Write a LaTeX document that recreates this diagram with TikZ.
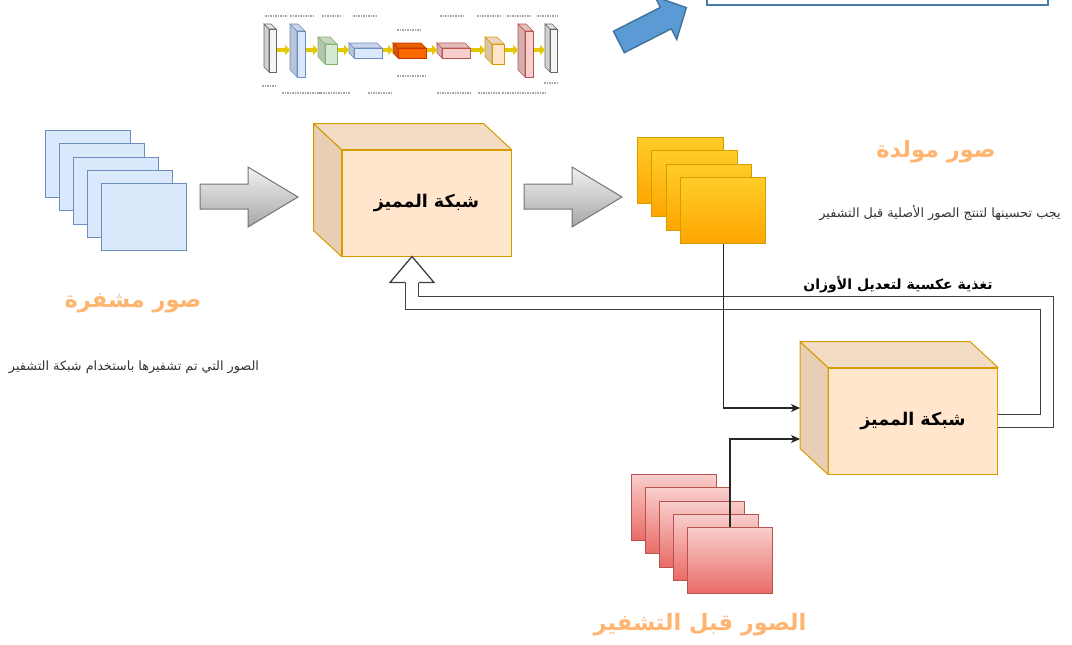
\documentclass[tikz,border=0pt]{standalone}
\usepackage{fontspec}
\usetikzlibrary{arrows.meta,calc}
\newfontfamily\arabicfont[Script=Arabic]{DejaVu Sans}
\TeXXeTstate=1

\definecolor{encfill}{HTML}{DAE8FC}
\definecolor{encline}{HTML}{6C8EBF}
\definecolor{gentop}{HTML}{FFCD28}
\definecolor{genbot}{HTML}{FFA500}
\definecolor{genline}{HTML}{D79B00}
\definecolor{pretop}{HTML}{F8CECC}
\definecolor{prebot}{HTML}{EA6B66}
\definecolor{preline}{HTML}{B85450}
\definecolor{discfront}{HTML}{FFE6CC}
\definecolor{discroof}{HTML}{F2DCC4}
\definecolor{discleft}{HTML}{E8CEB4}
\definecolor{titleorange}{HTML}{FFB570}
\definecolor{noteblue}{HTML}{4A7AAA}
\definecolor{arrowblue}{HTML}{5B9BD5}
\definecolor{arrowedge}{HTML}{41719C}
\definecolor{thumbyellow}{HTML}{E3C800}
\definecolor{thumbgray}{HTML}{F5F5F5}
\definecolor{thumbgrayline}{HTML}{666666}
\definecolor{thumbgreen}{HTML}{D5E8D4}
\definecolor{thumbgreenline}{HTML}{82B366}
\definecolor{thumborange}{HTML}{FA6800}
\definecolor{thumborangeline}{HTML}{C73500}

% a discriminator drawn as a box: front face is the node, then the side and the top
\newcommand{\discnet}[2]{%
  \node[discface] (#1) at (#2) {\beginR شبكة المميز\endR};
  \draw[discline, fill=discleft] (#1.north west) -- ++(-28,-26) -- ($(#1.south west)+(-28,-26)$) -- (#1.south west) -- cycle;
  \draw[discline, fill=discroof] (#1.north west) -- ++(-28,-26) -- ($(#1.north east)+(-28,-26)$) -- (#1.north east) -- cycle;
}

\tikzset{
  encsheet/.style={draw=encline, fill=encfill, line width=1pt, minimum width=85pt, minimum height=67pt, anchor=north west},
  gensheet/.style={draw=genline, top color=gentop, bottom color=genbot, line width=1pt, minimum width=85.5pt, minimum height=66pt, anchor=north west},
  presheet/.style={draw=preline, top color=pretop, bottom color=prebot, line width=1pt, minimum width=85pt, minimum height=66pt, anchor=north west},
  discface/.style={draw=genline, fill=discfront, line width=1pt, minimum width=169pt, minimum height=106pt, font=\arabicfont\bfseries\fontsize{17.5}{20}\selectfont},
  discline/.style={draw=genline, line width=1pt, line join=round},
  grayarrow/.style={draw=black!55, line width=1pt, top color=black!5, bottom color=black!35},
  bluearrow/.style={draw=arrowedge, fill=arrowblue, line width=1.4pt},
  topbox/.style={draw=noteblue, fill=white, line width=1.8pt},
  feedback/.style={draw=black!75, line width=1.3pt, double=white, double distance=11.7pt},
  fbhead/.style={draw=black!75, line width=1.3pt, fill=white},
  wire/.style={draw=black!85, line width=1.1pt, -{Stealth[length=9pt,width=8pt,inset=2.5pt]}},
  headtext/.style={font=\arabicfont\bfseries\fontsize{22.5}{26}\selectfont, text=titleorange},
  smalltext/.style={font=\arabicfont\fontsize{12.8}{15}\selectfont, text=black!80},
  fbtext/.style={font=\arabicfont\bfseries\fontsize{14}{17}\selectfont},
  tinytxt/.style={draw=black!35, line width=1.6pt, dash pattern=on 1.5pt off 1pt},
  yellowarrow/.style={draw=thumbyellow, line width=3.5pt, -{Triangle[length=5pt,width=10pt]}},
}

\begin{document}
\begin{tikzpicture}[x=1pt, y=-1pt]
  \clip (0,0) rectangle (1072,645);

  % small network sketch at the top
  \foreach \x/\y/\w/\h/\d/\f/\b in {269/29/7/43/5/thumbgray/thumbgrayline, 297/31/8/46/7/encfill/encline,
      325/44/12/20/7/thumbgreen/thumbgreenline, 354/48/28/10/5/encfill/encline,
      398/48/28/10/5/thumborange/thumborangeline, 442/48/28/10/5/pretop/preline,
      492/44/12/20/7/discfront/genline, 525/31/8/46/7/pretop/preline, 550/29/7/43/5/thumbgray/thumbgrayline} {
    \draw[draw=\b, fill=\f!85!black, line width=0.6pt] (\x,\y) -- ++(-\d,-\d) -- ++(0,\h) -- ++(\d,\d) -- cycle;
    \draw[draw=\b, fill=\f!92!black, line width=0.6pt] (\x,\y) -- ++(-\d,-\d) -- ++(\w,0) -- ++(\d,\d) -- cycle;
    \draw[draw=\b, fill=\f, line width=0.6pt] (\x,\y) rectangle ++(\w,\h);
  }
  \foreach \a/\b in {277/290, 306/318, 338/349, 383/393, 427/437, 471/485, 505/518, 534/545}
    \draw[yellowarrow] (\a,50) -- (\b,50);
  \foreach \a/\b/\y in {265/287/16, 290/315/16, 322/340/16, 353/378/16, 440/463/16, 477/502/16,
      507/530/16, 537/558/16, 397/420/30, 397/427/76, 262/275/86, 544/557/83,
      282/322/93, 318/350/93, 368/392/93, 437/472/93, 478/500/93, 502/547/93}
    \draw[tinytxt] (\a,\y) -- (\b,\y);

  % blue arrow and the box above it
  \begin{scope}[shift={(618.9,42)}, rotate=27]
    \draw[bluearrow] (0,-12) -- (52.7,-12) -- (52.7,-24) -- (75.7,0) -- (52.7,24) -- (52.7,12) -- (0,12) -- cycle;
  \end{scope}
  \node[topbox, minimum width=341pt, minimum height=30pt, anchor=south west] (notebox) at (706,6) {};

  % image stacks
  \foreach \i in {0,...,4}
    \node[encsheet] (enc\i) at ({45+14*\i},{130+13.3*\i}) {};
  \foreach \i in {0,...,3}
    \node[gensheet] (gen\i) at ({637+14.3*\i},{137+13.3*\i}) {};
  \foreach \i in {0,...,4}
    \node[presheet] (pre\i) at ({631+14*\i},{474+13.25*\i}) {};

  % discriminators
  \discnet{disc1}{426.5,203}
  \discnet{disc2}{913,421}

  % gray arrows
  \foreach \dx in {0,324}
    \draw[grayarrow, shift={(\dx,0)}] (200,184) -- (248,184) -- (248,167) -- (298,197) -- (248,227) -- (248,209) -- (200,209) -- cycle;

  % feedback back into the first discriminator
  \coordinate (fbtip) at ($(disc1.south)+(-14.5,0)$);
  \draw[feedback] (disc2.east) -- ++(49,0) |- ($(fbtip)+(0,46.5)$) -- ($(fbtip)+(0,26)$);
  \draw[fbhead] ($(fbtip)+(-6.5,26)$) -- ++(-15.5,0) -- (fbtip) -- ($(fbtip)+(22,26)$) -- ++(-15.5,0);

  \draw[wire] (gen3.south) |- ($(disc2.west)+(-28,-13)$);
  \draw[wire] (pre4.north) |- ($(disc2.west)+(-28,18)$);

  % labels
  \node[headtext] (enclabel) at (133,303) {\beginR صور مشفرة\endR};
  \node[smalltext] (encnote) at (134,367) {\beginR الصور التي تم تشفيرها باستخدام شبكة التشفير\endR};
  \node[headtext] (genlabel) at (936,152) {\beginR صور مولدة\endR};
  \node[smalltext] (gennote) at (940,213) {\beginR يجب تحسينها لتنتج الصور الأصلية قبل التشفير\endR};
  \node[fbtext] (fblabel) at (898,285) {\beginR تغذية عكسية لتعديل الأوزان\endR};
  \node[headtext] (prelabel) at (700,625) {\beginR الصور قبل التشفير\endR};
\end{tikzpicture}
\end{document}
